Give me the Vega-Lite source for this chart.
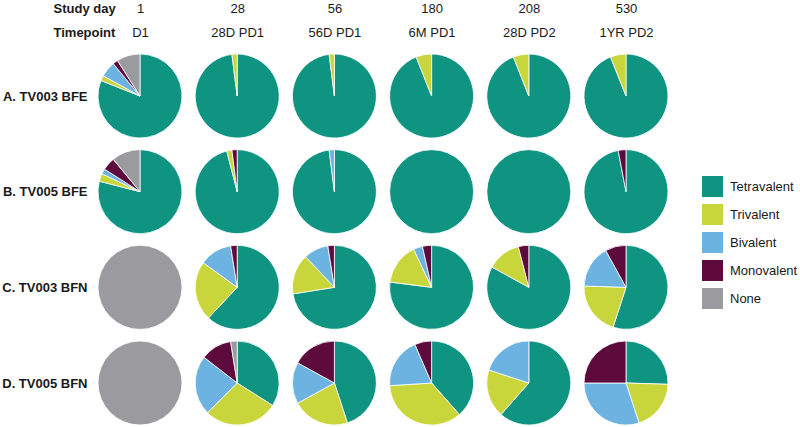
{
  "$schema": "https://vega.github.io/schema/vega-lite/v6.json",
  "autosize": {"type": "none"},
  "width": 710,
  "height": 379,
  "padding": {"left": 90, "top": 48, "right": 0, "bottom": 0},
  "background": "white",
  "config": {"view": {"stroke": null}},
  "data": {"values": [
    {"group": "A. TV003 BFE", "day": 1, "category": "Tetravalent", "value": 81},
    {"group": "A. TV003 BFE", "day": 1, "category": "Trivalent", "value": 2},
    {"group": "A. TV003 BFE", "day": 1, "category": "Bivalent", "value": 6},
    {"group": "A. TV003 BFE", "day": 1, "category": "Monovalent", "value": 2},
    {"group": "A. TV003 BFE", "day": 1, "category": "None", "value": 9},
    {"group": "A. TV003 BFE", "day": 28, "category": "Tetravalent", "value": 98},
    {"group": "A. TV003 BFE", "day": 28, "category": "Trivalent", "value": 2},
    {"group": "A. TV003 BFE", "day": 56, "category": "Tetravalent", "value": 98},
    {"group": "A. TV003 BFE", "day": 56, "category": "Trivalent", "value": 2},
    {"group": "A. TV003 BFE", "day": 180, "category": "Tetravalent", "value": 94},
    {"group": "A. TV003 BFE", "day": 180, "category": "Trivalent", "value": 6},
    {"group": "A. TV003 BFE", "day": 208, "category": "Tetravalent", "value": 94},
    {"group": "A. TV003 BFE", "day": 208, "category": "Trivalent", "value": 6},
    {"group": "A. TV003 BFE", "day": 530, "category": "Tetravalent", "value": 94},
    {"group": "A. TV003 BFE", "day": 530, "category": "Trivalent", "value": 6},

    {"group": "B. TV005 BFE", "day": 1, "category": "Tetravalent", "value": 79},
    {"group": "B. TV005 BFE", "day": 1, "category": "Trivalent", "value": 3},
    {"group": "B. TV005 BFE", "day": 1, "category": "Bivalent", "value": 2},
    {"group": "B. TV005 BFE", "day": 1, "category": "Monovalent", "value": 5},
    {"group": "B. TV005 BFE", "day": 1, "category": "None", "value": 11},
    {"group": "B. TV005 BFE", "day": 28, "category": "Tetravalent", "value": 96},
    {"group": "B. TV005 BFE", "day": 28, "category": "Trivalent", "value": 2},
    {"group": "B. TV005 BFE", "day": 28, "category": "Monovalent", "value": 2},
    {"group": "B. TV005 BFE", "day": 56, "category": "Tetravalent", "value": 98},
    {"group": "B. TV005 BFE", "day": 56, "category": "Bivalent", "value": 2},
    {"group": "B. TV005 BFE", "day": 180, "category": "Tetravalent", "value": 100},
    {"group": "B. TV005 BFE", "day": 208, "category": "Tetravalent", "value": 100},
    {"group": "B. TV005 BFE", "day": 530, "category": "Tetravalent", "value": 97},
    {"group": "B. TV005 BFE", "day": 530, "category": "Monovalent", "value": 3},

    {"group": "C. TV003 BFN", "day": 1, "category": "None", "value": 100},
    {"group": "C. TV003 BFN", "day": 28, "category": "Tetravalent", "value": 62},
    {"group": "C. TV003 BFN", "day": 28, "category": "Trivalent", "value": 23},
    {"group": "C. TV003 BFN", "day": 28, "category": "Bivalent", "value": 12.5},
    {"group": "C. TV003 BFN", "day": 28, "category": "Monovalent", "value": 2.5},
    {"group": "C. TV003 BFN", "day": 56, "category": "Tetravalent", "value": 72.5},
    {"group": "C. TV003 BFN", "day": 56, "category": "Trivalent", "value": 15.5},
    {"group": "C. TV003 BFN", "day": 56, "category": "Bivalent", "value": 9.5},
    {"group": "C. TV003 BFN", "day": 56, "category": "Monovalent", "value": 2.5},
    {"group": "C. TV003 BFN", "day": 180, "category": "Tetravalent", "value": 77},
    {"group": "C. TV003 BFN", "day": 180, "category": "Trivalent", "value": 16},
    {"group": "C. TV003 BFN", "day": 180, "category": "Bivalent", "value": 3.5},
    {"group": "C. TV003 BFN", "day": 180, "category": "Monovalent", "value": 3.5},
    {"group": "C. TV003 BFN", "day": 208, "category": "Tetravalent", "value": 83},
    {"group": "C. TV003 BFN", "day": 208, "category": "Trivalent", "value": 13},
    {"group": "C. TV003 BFN", "day": 208, "category": "Monovalent", "value": 4},
    {"group": "C. TV003 BFN", "day": 530, "category": "Tetravalent", "value": 55},
    {"group": "C. TV003 BFN", "day": 530, "category": "Trivalent", "value": 20.5},
    {"group": "C. TV003 BFN", "day": 530, "category": "Bivalent", "value": 16.5},
    {"group": "C. TV003 BFN", "day": 530, "category": "Monovalent", "value": 8},

    {"group": "D. TV005 BFN", "day": 1, "category": "None", "value": 100},
    {"group": "D. TV005 BFN", "day": 28, "category": "Tetravalent", "value": 34},
    {"group": "D. TV005 BFN", "day": 28, "category": "Trivalent", "value": 28.5},
    {"group": "D. TV005 BFN", "day": 28, "category": "Bivalent", "value": 23},
    {"group": "D. TV005 BFN", "day": 28, "category": "Monovalent", "value": 12},
    {"group": "D. TV005 BFN", "day": 28, "category": "None", "value": 2.5},
    {"group": "D. TV005 BFN", "day": 56, "category": "Tetravalent", "value": 45},
    {"group": "D. TV005 BFN", "day": 56, "category": "Trivalent", "value": 22},
    {"group": "D. TV005 BFN", "day": 56, "category": "Bivalent", "value": 16},
    {"group": "D. TV005 BFN", "day": 56, "category": "Monovalent", "value": 17},
    {"group": "D. TV005 BFN", "day": 180, "category": "Tetravalent", "value": 38.5},
    {"group": "D. TV005 BFN", "day": 180, "category": "Trivalent", "value": 35.5},
    {"group": "D. TV005 BFN", "day": 180, "category": "Bivalent", "value": 19.5},
    {"group": "D. TV005 BFN", "day": 180, "category": "Monovalent", "value": 6.5},
    {"group": "D. TV005 BFN", "day": 208, "category": "Tetravalent", "value": 61.5},
    {"group": "D. TV005 BFN", "day": 208, "category": "Trivalent", "value": 18.5},
    {"group": "D. TV005 BFN", "day": 208, "category": "Bivalent", "value": 20},
    {"group": "D. TV005 BFN", "day": 530, "category": "Tetravalent", "value": 25.5},
    {"group": "D. TV005 BFN", "day": 530, "category": "Trivalent", "value": 19.5},
    {"group": "D. TV005 BFN", "day": 530, "category": "Bivalent", "value": 30},
    {"group": "D. TV005 BFN", "day": 530, "category": "Monovalent", "value": 25}
  ]},
  "transform": [
    {"calculate": "indexof(['Tetravalent','Trivalent','Bivalent','Monovalent','None'], datum.category)", "as": "rank"},
    {"stack": "value", "groupby": ["group", "day"], "sort": [{"field": "rank", "order": "ascending"}], "offset": "normalize", "as": ["v0", "v1"]}
  ],
  "mark": {"type": "arc", "outerRadius": 42, "stroke": "white", "strokeWidth": 0.8},
  "encoding": {
    "x": {
      "field": "day", "type": "ordinal",
      "scale": {"type": "point", "padding": 0, "domain": [1, 28, 56, 180, 208, 530], "range": [50, 536]},
      "axis": {
        "orient": "top", "domain": false, "ticks": false, "grid": false, "title": null,
        "labelAngle": 0,
        "labelExpr": "[datum.label, ['D1','28D PD1','56D PD1','6M PD1','28D PD2','1YR PD2'][indexof([1,28,56,180,208,530], datum.value)]]",
        "labelFont": "Liberation Sans", "labelFontSize": 13, "labelColor": "#1a1a1a",
        "labelLineHeight": 24, "labelPadding": 33
      }
    },
    "y": {
      "field": "group", "type": "nominal",
      "scale": {"type": "point", "padding": 0, "domain": ["A. TV003 BFE", "B. TV005 BFE", "C. TV003 BFN", "D. TV005 BFN"], "range": [48, 335]},
      "axis": {
        "orient": "left", "domain": false, "ticks": false, "grid": false,
        "labelFont": "Liberation Sans", "labelFontSize": 13, "labelFontWeight": "bold", "labelColor": "#1a1a1a", "labelPadding": 3,
        "title": ["Study day", "Timepoint"], "titleAngle": 0, "titleAlign": "left", "titleBaseline": "bottom",
        "titleX": -37, "titleY": -33, "titleFont": "Liberation Sans", "titleFontSize": 13, "titleFontWeight": "bold",
        "titleColor": "#1a1a1a", "titleLineHeight": 24
      }
    },
    "theta": {"field": "v0", "type": "quantitative", "scale": {"domain": [0, 1]}},
    "theta2": {"field": "v1"},
    "color": {
      "field": "category", "type": "nominal",
      "scale": {
        "domain": ["Tetravalent", "Trivalent", "Bivalent", "Monovalent", "None"],
        "range": ["#0f9481", "#c8d63c", "#6cb3e2", "#5c0b3c", "#9a9a9f"]
      },
      "legend": {
        "title": null, "orient": "none", "legendX": 612, "legendY": 128,
        "symbolType": "square", "symbolSize": 441, "symbolStrokeWidth": 0,
        "labelFont": "Liberation Sans", "labelFontSize": 13, "labelColor": "#1a1a1a",
        "rowPadding": 7, "labelOffset": 7
      }
    }
  }
}
